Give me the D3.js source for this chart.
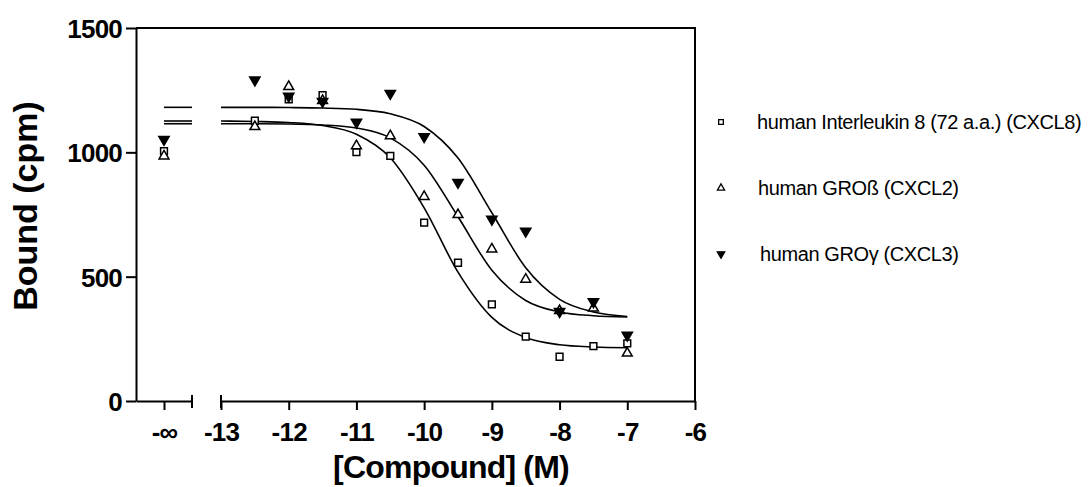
<!DOCTYPE html>
<html>
<head>
<meta charset="utf-8">
<script src="https://cdn.jsdelivr.net/npm/d3@7"></script>
<style>
  body { margin: 0; background: #fff; }
  svg text { font-family: "Liberation Sans", Arial, sans-serif; }
</style>
</head>
<body>
<div id="chart"></div>
<script>
// doses in log M, -Infinity is the "-oo" (no compound) point
const doses = [-Infinity, -12.5, -12, -11.5, -11, -10.5, -10, -9.5, -9, -8.5, -8, -7.5, -7];
const il8 = [1005, 1127, 1213, 1230, 1001, 986, 717, 556, 389, 259, 178, 221, 232];
const grob = [985, 1103, 1264, 1208, 1026, 1066, 822, 749, 611, 489, 363, 373, 192];
const grog = [1052, 1291, 1226, 1205, 1121, 1237, 1063, 879, 731, 683, 360, 399, 265];

// fitted curves
const curveX = [-13, -12.5, -12, -11.5, -11, -10.5, -10, -9.5, -9, -8.5, -8, -7.5, -7];
const fitIl8 = [1126, 1124, 1120, 1108, 1073, 978, 777, 518, 336, 255, 226, 217, 214];
const fitGrob = [1115, 1115, 1114, 1110, 1098, 1058, 948, 741, 526, 404, 358, 343, 338];
const fitGrog = [1181, 1181, 1180, 1178, 1173, 1155, 1104, 977, 757, 536, 409, 358, 340];

const xTicks = [-13, -12, -11, -10, -9, -8, -7, -6];
const yTicks = [0, 500, 1000, 1500];
const seriesNames = ["human Interleukin 8 (72 a.a.) (CXCL8)", "human GROß (CXCL2)", "human GROγ (CXCL3)"];

const width = 1092, height = 487;
const svg = d3.select("#chart").append("svg")
    .attr("width", width)
    .attr("height", height);

const plotL = 136, plotT = 28, plotB = 401, plotR = 695;

// two x segments, broken axis
const xInf = d3.scaleLinear().domain([-1, 1]).range([plotL, 192]);
const x = d3.scaleLinear().domain([-13, -6]).range([221, plotR]);
const y = d3.scaleLinear().domain([0, 1500]).range([plotB, plotT]);
const px = d => d === -Infinity ? xInf(0) : x(d);

// frame top + right
svg.append("path")
    .attr("d", `M${plotL},${plotT}H${plotR}V${plotB}`)
    .attr("fill", "none").attr("stroke", "#000").attr("stroke-width", 2);

// y axis
const yAxis = svg.append("g")
    .attr("transform", `translate(${plotL},0)`)
    .call(d3.axisLeft(y).tickValues(yTicks).tickSize(10).tickSizeOuter(0).tickPadding(4).tickFormat(d => d));
yAxis.selectAll("path, line").attr("stroke", "#000").attr("stroke-width", 2);
yAxis.selectAll("text")
    .attr("font-size", 26).attr("font-weight", "bold").attr("fill", "#000")
    .attr("letter-spacing", -0.8).attr("dy", "0.36em");

// x axis segment 1 (-oo)
const xa1 = svg.append("g")
    .attr("transform", `translate(0,${plotB})`)
    .call(d3.axisBottom(xInf).tickValues([0]).tickSize(9).tickSizeOuter(0).tickPadding(6).tickFormat(() => "-∞"));
// x axis segment 2
const xa2 = svg.append("g")
    .attr("transform", `translate(0,${plotB})`)
    .call(d3.axisBottom(x).tickValues(xTicks).tickSize(9).tickSizeOuter(0).tickPadding(6).tickFormat(d => d));
[xa1, xa2].forEach(g => {
    g.selectAll("path, line").attr("stroke", "#000").attr("stroke-width", 2);
    g.selectAll("text")
        .attr("font-size", 26).attr("font-weight", "bold").attr("fill", "#000")
        .attr("letter-spacing", -0.8).attr("dy", "0.95em");
});
// break marks at segment ends
svg.append("g").selectAll("line")
    .data([xInf(1), x(-13)])
    .join("line")
    .attr("x1", d => d).attr("x2", d => d)
    .attr("y1", plotB - 6).attr("y2", plotB + 7)
    .attr("stroke", "#000").attr("stroke-width", 2);

// axis titles
svg.append("text")
    .attr("x", 451).attr("y", 478)
    .attr("text-anchor", "middle")
    .attr("font-size", 32).attr("font-weight", "bold")
    .attr("letter-spacing", -0.8)
    .text("[Compound] (M)");
svg.append("text")
    .attr("transform", "translate(37,206) rotate(-90)")
    .attr("text-anchor", "middle")
    .attr("font-size", 34).attr("font-weight", "bold")
    .text("Bound (cpm)");

// fitted curves
const fits = [fitIl8, fitGrob, fitGrog];
const line = d3.line()
    .x(d => x(d[0]))
    .y(d => y(d[1]))
    .curve(d3.curveMonotoneX);
svg.append("g").selectAll("path")
    .data(fits)
    .join("path")
    .attr("d", f => line(curveX.map((c, i) => [c, f[i]])))
    .attr("fill", "none").attr("stroke", "#000").attr("stroke-width", 1.6);
// plateau lines in the -oo segment
svg.append("g").selectAll("line")
    .data(fits)
    .join("line")
    .attr("x1", xInf(0)).attr("x2", xInf(1))
    .attr("y1", f => y(f[0])).attr("y2", f => y(f[0]))
    .attr("stroke", "#000").attr("stroke-width", 1.6);

// points
const styles = [
    {type: d3.symbolSquare, size: 46, fill: "#fff", rot: 0, legSize: 22},
    {type: d3.symbolTriangle, size: 42, fill: "#fff", rot: 0, legSize: 22},
    {type: d3.symbolTriangle, size: 46, fill: "#000", rot: 180, legSize: 24}
];
const allSeries = [il8, grob, grog];
allSeries.forEach((vals, s) => {
    const st = styles[s];
    svg.append("g").selectAll("path")
        .data(vals)
        .join("path")
        .attr("d", d3.symbol().type(st.type).size(st.size))
        .attr("transform", (d, i) => `translate(${px(doses[i])},${y(d)}) rotate(${st.rot})`)
        .attr("fill", st.fill).attr("stroke", "#000").attr("stroke-width", 1.5);
});

// legend
const legendY = [122, 188, 254];
const lg = svg.append("g").selectAll("g")
    .data(seriesNames)
    .join("g")
    .attr("transform", (d, i) => `translate(721,${legendY[i]})`);
lg.append("path")
    .attr("d", (d, i) => d3.symbol().type(styles[i].type).size(styles[i].legSize)())
    .attr("transform", (d, i) => `rotate(${styles[i].rot})`)
    .attr("fill", (d, i) => styles[i].fill)
    .attr("stroke", "#000").attr("stroke-width", 1.3);
lg.append("text")
    .attr("x", (d, i) => [36, 37, 39][i])
    .attr("dy", "0.36em")
    .attr("font-size", 20)
    .attr("letter-spacing", -0.4)
    .text(d => d);
</script>
</body>
</html>
